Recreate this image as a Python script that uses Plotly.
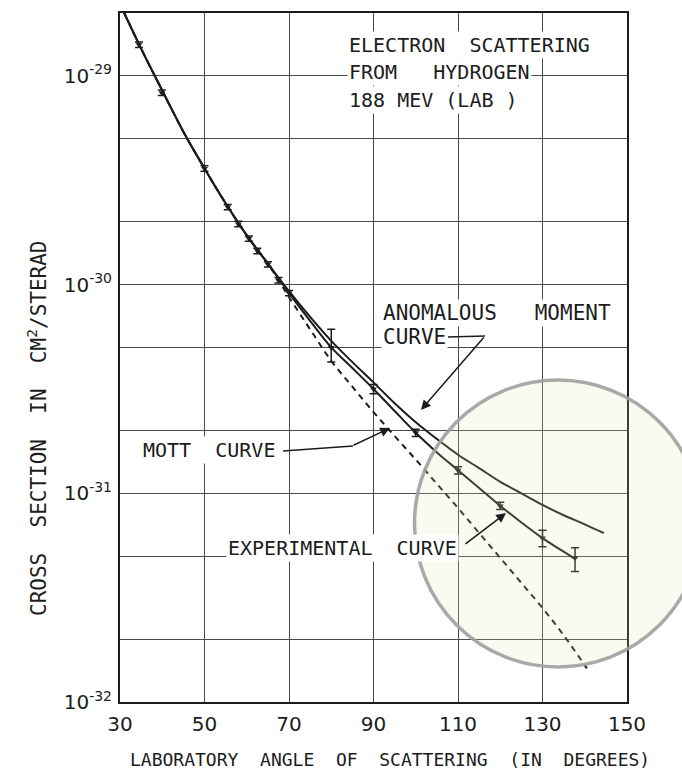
import math
import plotly.graph_objects as go

# ---------------- data ----------------
angle_anom = [30.8, 35, 40, 45, 50, 55, 60, 65, 70, 75, 80, 85, 90, 95, 100, 105, 110,
              115, 120, 125, 130, 135, 140, 144.5]
sigma_anom = [2.04e-29, 1.35e-29, 8.5e-30, 5.4e-30, 3.6e-30, 2.45e-30, 1.72e-30, 1.26e-30,
              9.3e-31, 7.0e-31, 5.37e-31, 4.25e-31, 3.4e-31, 2.7e-31, 2.19e-31, 1.82e-31, 1.53e-31,
              1.32e-31, 1.135e-31, 1.0e-31, 8.8e-32, 7.85e-32, 7.1e-32, 6.45e-32]

angle_exp = [30.8, 35, 40, 45, 50, 55, 60, 65, 70, 75, 80, 85, 90, 95, 100, 105, 110,
             115, 120, 125, 130, 135, 137.7]
sigma_exp = [2.04e-29, 1.35e-29, 8.5e-30, 5.4e-30, 3.6e-30, 2.45e-30, 1.72e-30, 1.26e-30,
             9.1e-31, 6.7e-31, 5.0e-31, 3.98e-31, 3.16e-31, 2.48e-31, 1.95e-31, 1.57e-31, 1.29e-31,
             1.06e-31, 8.7e-32, 7.25e-32, 6.1e-32, 5.25e-32, 4.85e-32]

angle_mott = [30.8, 35, 40, 45, 50, 55, 60, 65, 70, 75, 80, 85, 90, 95, 100, 105, 110,
              115, 120, 125, 130, 135, 140.5]
sigma_mott = [2.04e-29, 1.35e-29, 8.5e-30, 5.4e-30, 3.6e-30, 2.45e-30, 1.72e-30, 1.26e-30,
              8.7e-31, 6.1e-31, 4.31e-31, 3.24e-31, 2.45e-31, 1.88e-31, 1.45e-31, 1.11e-31, 8.5e-32,
              6.45e-32, 4.9e-32, 3.72e-32, 2.82e-32, 2.09e-32, 1.45e-32]

pt_angle = [34.5, 39.9, 50, 55.5, 58, 60.5, 62.5, 65, 67.5, 70, 80, 90, 100, 110, 120, 130, 137.7]
pt_sigma = [1.41e-29, 8.3e-30, 3.6e-30, 2.35e-30, 1.95e-30, 1.66e-30, 1.45e-30, 1.25e-30, 1.05e-30,
            9.1e-31, 5.0e-31, 3.16e-31, 1.95e-31, 1.29e-31, 8.7e-32, 6.1e-32, 4.9e-32]
pt_err_up = [0.03, 0.03, 0.03, 0.03, 0.03, 0.03, 0.03, 0.03, 0.03, 0.03, 0.22, 0.05, 0.04, 0.04, 0.04, 0.09, 0.12]
pt_err_dn = [0.03, 0.03, 0.03, 0.03, 0.03, 0.03, 0.03, 0.03, 0.03, 0.03, 0.15, 0.05, 0.04, 0.04, 0.04, 0.09, 0.14]

x_ticks = [30, 50, 70, 90, 110, 130, 150]
y_major = [1e-32, 1e-31, 1e-30, 1e-29]
y_major_text = ["10<sup>-32</sup>", "10<sup>-31</sup>", "10<sup>-30</sup>", "10<sup>-29</sup>"]
y_minor = [2e-32, 5e-32, 2e-31, 5e-31, 2e-30, 5e-30, 2e-29]
y_top = 2e-29

# ---------------- figure ----------------
W, H = 682, 773
L, R, T, B = 120, 55, 13, 71
PW, PH = W - L - R, H - T - B


def px(x, y):
    """pixel position -> paper coordinates of the plotting area"""
    return (x - L) / PW, (H - B - y) / PH


INK = "#1c1c1c"
FONT = "DejaVu Sans"
MONO = "DejaVu Sans Mono"
SP = "\u00a0"

fig = go.Figure()

fig.add_trace(go.Scatter(x=angle_mott, y=sigma_mott, mode="lines", line_shape="spline",
                         line=dict(color=INK, width=2, dash="6px,5px"), showlegend=False))
fig.add_trace(go.Scatter(x=angle_exp, y=sigma_exp, mode="lines", line_shape="spline",
                         line=dict(color=INK, width=2), showlegend=False))
fig.add_trace(go.Scatter(x=angle_anom, y=sigma_anom, mode="lines", line_shape="spline",
                         line=dict(color=INK, width=2), showlegend=False))

err_up = [s * e for s, e in zip(pt_sigma, pt_err_up)]
err_dn = [s * e for s, e in zip(pt_sigma, pt_err_dn)]
fig.add_trace(go.Scatter(x=pt_angle, y=pt_sigma, mode="markers",
                         marker=dict(symbol="triangle-down", size=6, color=INK),
                         error_y=dict(type="data", symmetric=False, array=err_up, arrayminus=err_dn,
                                      color=INK, thickness=1.5, width=4),
                         showlegend=False))

tickvals = sorted(y_major + y_minor)
ticktext = [y_major_text[y_major.index(v)] if v in y_major else "" for v in tickvals]

fig.update_layout(
    width=W, height=H,
    margin=dict(l=L, r=R, t=T, b=B),
    paper_bgcolor="white", plot_bgcolor="white",
    font=dict(family=FONT, color=INK, size=18),
    xaxis=dict(range=[30, 150], tickvals=x_ticks, ticktext=[str(v) for v in x_ticks],
               showgrid=True, gridcolor="#4a4a4a", gridwidth=1.3, zeroline=False,
               showline=True, linecolor=INK, linewidth=2, mirror=True,
               ticks="outside", ticklen=3, tickcolor="rgba(0,0,0,0)",
               tickfont=dict(size=20, family=FONT, color=INK)),
    yaxis=dict(type="log", range=[-32, math.log10(y_top)], tickvals=tickvals, ticktext=ticktext,
               showgrid=True, gridcolor="#4a4a4a", gridwidth=1.3, zeroline=False,
               showline=True, linecolor=INK, linewidth=2, mirror=True,
               ticks="outside", ticklen=2, tickcolor="rgba(0,0,0,0)",
               tickfont=dict(size=20, family=FONT, color=INK)),
)

anns = []


def label(text, x, y, size=20):
    xp, yp = px(x, y)
    anns.append(dict(text=text, x=xp, y=yp, xref="paper", yref="paper", xanchor="left",
                     yanchor="middle", showarrow=False, bgcolor="white", borderpad=1,
                     font=dict(size=size, family=MONO, color=INK)))


label("ELECTRON" + SP * 2 + "SCATTERING", 347, 45)
label("FROM" + SP * 3 + "HYDROGEN", 347, 72)
label("188" + SP + "MEV" + SP + "(LAB" + SP + ")", 347, 100)
label("ANOMALOUS" + SP * 3 + "MOMENT", 381, 313, 21)
label("CURVE", 381, 337, 21)
label("MOTT" + SP * 2 + "CURVE", 141, 450)
label("EXPERIMENTAL" + SP * 2 + "CURVE", 226, 548)


def arrow(x_tail, y_tail, x_tip, y_tip):
    xp, yp = px(x_tip, y_tip)
    anns.append(dict(text="", x=xp, y=yp, xref="paper", yref="paper", showarrow=True,
                     ax=x_tail - x_tip, ay=y_tail - y_tip, arrowhead=2, arrowsize=1.3,
                     arrowwidth=1.5, arrowcolor=INK, standoff=0, startstandoff=0))


arrow(485, 336, 421, 410)
arrow(352, 446, 390, 428)
arrow(464, 545, 506, 513)

# axis titles
xp, yp = px(390, 759)
anns.append(dict(text=(SP * 2).join(["LABORATORY", "ANGLE", "OF", "SCATTERING", "(IN", "DEGREES)"]),
                 x=xp, y=yp, xref="paper", yref="paper", xanchor="center", yanchor="middle",
                 showarrow=False, font=dict(size=18, family=MONO, color=INK)))
xp, yp = px(37, 428)
anns.append(dict(text=(SP * 2).join(["CROSS", "SECTION", "IN", "CM<sup>2</sup>/STERAD"]),
                 x=xp, y=yp, xref="paper", yref="paper", xanchor="center", yanchor="middle",
                 showarrow=False, textangle=-90, font=dict(size=21, family=MONO, color=INK)))

fig.update_layout(annotations=anns)

shapes = []


def seg(x0, y0, x1, y1):
    a, b = px(x0, y0)
    c, d = px(x1, y1)
    shapes.append(dict(type="line", xref="paper", yref="paper", x0=a, y0=b, x1=c, y1=d,
                       line=dict(color=INK, width=1.5), layer="above"))


seg(448, 337, 485, 336)
seg(283, 451, 353, 446)

# highlight circle
cx0, cy0 = px(414.5, 667)
cx1, cy1 = px(701.5, 380)
shapes.append(dict(type="circle", xref="paper", yref="paper", x0=cx0, y0=cy0, x1=cx1, y1=cy1,
                   fillcolor="rgba(235,225,170,0.18)", line=dict(color="rgba(160,160,160,0.9)", width=3.5),
                   layer="above"))
fig.update_layout(shapes=shapes)

fig.write_html("out.html")
